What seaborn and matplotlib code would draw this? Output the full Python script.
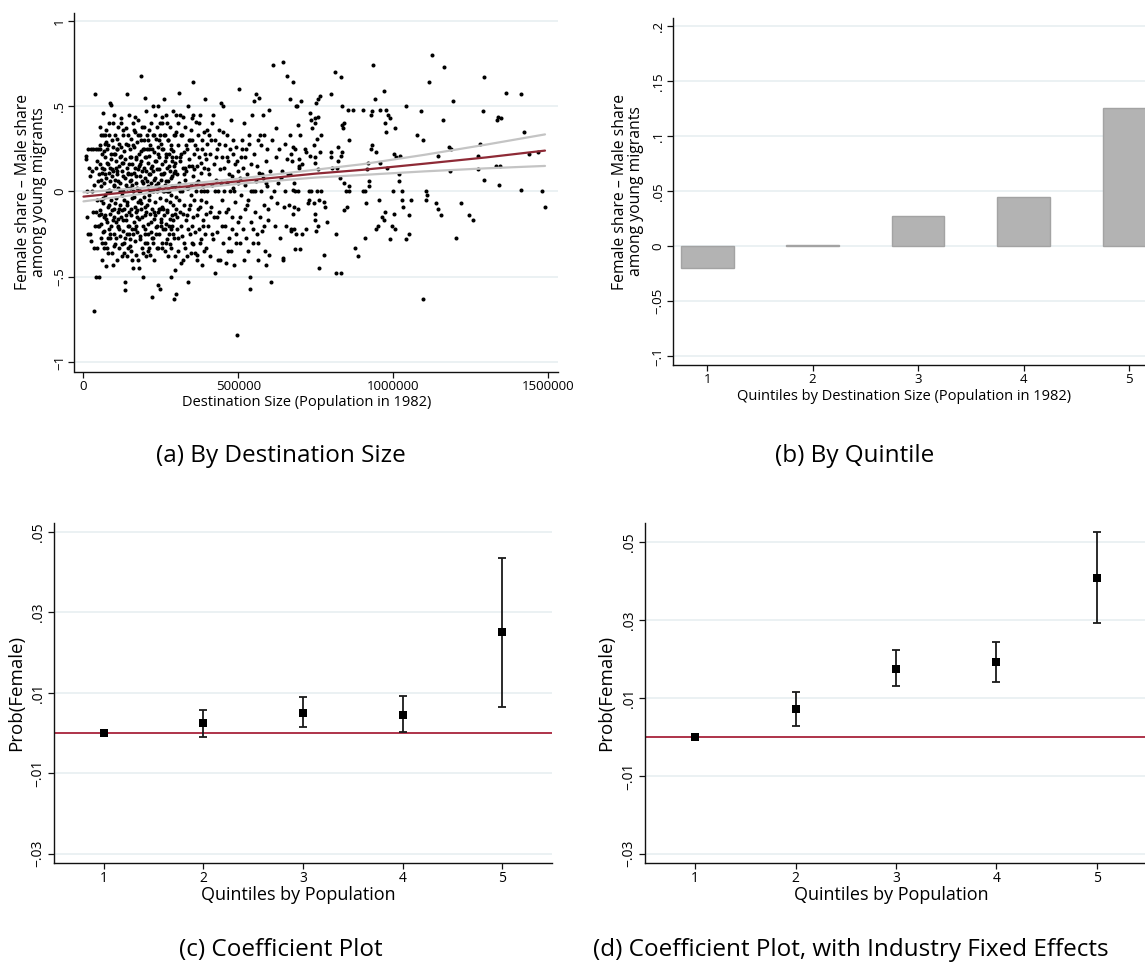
import matplotlib
matplotlib.use("Agg")
import matplotlib.pyplot as plt
import seaborn as sns
import pandas as pd

# ---------------- data ----------------
# (a) destination population (thousands) vs female share - male share
scatter_points = [
    # 0-50k
    (8,0.21),(9,0.19),(10,-0.15),(12,0.0),(14,-0.25),(15,0.25),(18,0.14),(20,-0.25),(22,0.09),(24,-0.29),
    (25,0.25),(26,0.0),(28,0.12),(30,-0.12),(31,0.25),(33,-0.33),(34,0.04),(35,-0.70),(36,-0.20),(38,0.57),
    (39,0.14),(40,-0.50),(41,-0.12),(42,0.25),(43,-0.05),(44,0.18),(45,-0.33),(46,0.06),(47,-0.20),(48,0.25),
    (49,-0.14),(50,-0.50),(50,0.10),
    # 50-100k
    (52,0.27),(53,-0.11),(54,0.16),(55,-0.27),(56,0.03),(57,0.33),(58,-0.19),(59,0.11),(60,-0.40),(61,0.22),
    (62,-0.07),(63,0.46),(64,-0.24),(65,0.13),(66,-0.15),(67,0.05),(68,0.33),(69,-0.30),(70,0.20),(71,-0.02),
    (72,-0.44),(73,0.36),(74,0.08),(75,-0.18),(76,0.25),(77,-0.33),(78,0.16),(79,-0.09),(80,0.27),(81,-0.22),
    (82,0.01),(83,0.40),(84,-0.13),(85,0.52),(86,-0.27),(87,0.14),(88,0.51),(89,-0.05),(90,0.19),(91,-0.36),
    (92,0.09),(93,0.30),(94,-0.17),(95,-0.43),(96,0.12),(97,0.03),(98,-0.25),(99,0.45),(100,-0.10),(100,0.22),
    (51,-0.20),(53,0.38),(55,0.07),(57,-0.13),(59,-0.30),(61,0.14),(63,-0.04),(65,0.24),(67,-0.23),(69,0.10),
    (71,0.28),(73,-0.16),(75,0.00),(77,0.17),(79,-0.36),(81,0.33),(83,-0.08),(85,0.06),(87,-0.25),(89,0.22),
    (91,0.13),(93,-0.11),(95,0.26),(97,-0.32),(99,0.04),(54,0.25),(58,-0.05),(62,0.33),(66,-0.33),(70,-0.14),
    (74,0.29),(78,-0.27),(82,0.11),(86,0.00),(90,-0.20),(94,0.40),(98,-0.15),
    # 100-150k
    (101,0.33),(102,-0.31),(103,0.07),(104,-0.18),(105,0.18),(106,-0.04),(107,0.25),(108,-0.40),(109,0.10),(110,-0.21),
    (111,0.38),(112,0.02),(113,-0.12),(114,0.15),(115,-0.33),(116,0.28),(117,-0.08),(118,0.05),(119,-0.26),(120,0.21),
    (121,-0.15),(122,0.43),(123,-0.02),(124,-0.38),(125,0.12),(126,0.33),(127,-0.23),(128,0.00),(129,0.17),(130,-0.10),
    (131,-0.30),(132,0.24),(133,0.08),(134,-0.53),(135,-0.58),(136,-0.17),(137,0.37),(138,0.04),(139,-0.25),(140,0.14),
    (141,0.57),(142,-0.06),(143,-0.33),(144,0.27),(145,0.10),(146,-0.20),(147,0.45),(148,-0.12),(149,0.20),(150,-0.28),
    (150,0.02),
    (101,-0.07),(103,0.22),(105,-0.27),(107,0.12),(109,0.31),(111,-0.16),(113,0.06),(115,-0.22),(117,0.20),(119,0.00),
    (121,0.26),(123,-0.31),(125,-0.11),(127,0.09),(129,0.36),(131,-0.05),(133,-0.27),(135,0.19),(137,-0.14),(139,0.02),
    (141,-0.38),(143,0.11),(145,0.33),(147,-0.25),(149,0.06),(104,0.14),(108,0.25),(112,-0.20),(116,-0.10),(120,0.40),
    (124,0.17),(128,-0.17),(132,-0.36),(136,0.28),(140,-0.08),(144,-0.20),(148,0.16),
    # 150-200k
    (151,0.25),(152,-0.14),(153,0.07),(154,-0.35),(155,0.31),(156,-0.04),(157,0.16),(158,-0.22),(159,0.40),(160,0.00),
    (161,-0.45),(162,0.11),(163,-0.18),(164,0.26),(165,-0.09),(166,0.35),(167,-0.29),(168,0.05),(169,0.19),(170,-0.12),
    (171,-0.37),(172,0.29),(173,0.02),(174,-0.24),(175,0.13),(176,0.42),(177,-0.06),(178,-0.45),(179,0.22),(180,-0.16),
    (181,0.09),(182,0.33),(183,-0.28),(184,0.00),(185,0.18),(186,-0.10),(187,0.68),(188,0.38),(189,-0.33),(190,0.06),
    (191,0.25),(192,-0.20),(193,-0.50),(194,0.14),(195,-0.03),(196,0.30),(197,-0.14),(198,0.55),(199,0.08),(200,-0.25),
    (200,0.20),
    (151,-0.32),(153,0.20),(155,-0.10),(157,0.04),(159,-0.25),(161,0.27),(163,-0.03),(165,0.14),(167,0.44),(169,-0.20),
    (171,0.09),(173,-0.15),(175,0.33),(177,-0.40),(179,0.00),(181,-0.26),(183,0.16),(185,-0.07),(187,0.24),(189,0.12),
    (191,-0.36),(193,0.05),(195,0.38),(197,-0.22),(199,-0.09),(154,0.10),(158,-0.40),(162,0.36),(166,-0.22),(170,0.20),
    (174,-0.11),(178,0.15),(182,-0.05),(186,0.30),(190,-0.15),(194,0.25),(198,-0.30),
    # 200-250k
    (201,-0.38),(202,0.12),(203,0.47),(204,-0.08),(205,0.25),(206,-0.30),(207,0.03),(208,0.17),(209,-0.19),(210,0.36),
    (211,-0.02),(212,-0.33),(213,0.21),(214,0.10),(215,-0.13),(216,0.27),(217,-0.24),(218,0.05),(219,0.40),(220,-0.62),
    (221,-0.10),(222,0.15),(223,0.33),(224,-0.27),(225,0.00),(226,0.50),(227,-0.16),(228,0.23),(229,-0.40),(230,0.08),
    (231,0.18),(232,-0.06),(233,0.31),(234,-0.21),(235,0.04),(236,0.38),(237,-0.33),(238,0.13),(239,-0.55),(240,0.26),
    (241,-0.12),(242,0.50),(243,0.02),(244,-0.25),(245,0.20),(246,-0.04),(247,0.33),(248,-0.57),(249,0.10),(250,-0.18),
    (250,0.28),
    (201,0.20),(203,-0.12),(205,0.06),(207,-0.25),(209,0.30),(211,0.10),(213,-0.05),(215,-0.37),(217,0.14),(219,-0.18),
    (221,0.25),(223,0.00),(225,-0.30),(227,0.33),(229,0.07),(231,-0.14),(233,0.18),(235,-0.25),(237,0.00),(239,0.22),
    (241,-0.33),(243,0.13),(245,-0.10),(247,0.40),(249,-0.20),(204,0.33),(208,-0.35),(212,0.25),(216,0.00),(220,-0.27),
    (224,0.12),(228,-0.12),(232,0.45),(236,-0.20),(240,0.05),(244,0.30),(248,-0.10),
    # 250-300k
    (251,0.07),(252,-0.30),(253,0.40),(254,-0.09),(255,0.16),(256,0.00),(257,-0.22),(258,0.25),(259,0.54),(260,-0.14),
    (261,0.11),(262,-0.35),(263,0.33),(264,0.04),(265,-0.19),(266,0.20),(267,-0.05),(268,0.45),(269,-0.28),(270,0.14),
    (271,-0.11),(272,0.30),(273,-0.38),(274,0.06),(275,0.22),(276,-0.25),(277,0.00),(278,0.38),(279,-0.16),(280,0.12),
    (281,-0.33),(282,0.27),(283,-0.02),(284,-0.50),(285,0.18),(286,0.09),(287,-0.20),(288,0.47),(289,-0.08),(290,0.24),
    (291,-0.63),(292,0.15),(293,-0.27),(294,0.03),(295,0.33),(296,-0.13),(297,-0.46),(298,0.20),(299,-0.03),(300,0.45),
    (300,-0.60),
    (251,-0.16),(253,0.25),(255,-0.33),(257,0.10),(259,0.00),(261,0.33),(263,-0.22),(265,0.06),(267,0.22),(269,-0.12),
    (271,0.40),(273,0.00),(275,-0.20),(277,0.15),(279,-0.31),(281,0.08),(283,0.25),(285,-0.14),(287,0.03),(289,-0.25),
    (291,0.33),(293,0.11),(295,-0.38),(297,0.17),(299,-0.10),(254,0.44),(258,-0.10),(262,0.18),(266,-0.30),(270,0.00),
    (274,0.30),(278,-0.06),(282,-0.22),(286,0.20),(290,-0.17),(294,0.12),(298,0.35),
    # 300-350k
    (302,0.10),(303,-0.22),(305,0.27),(306,-0.35),(308,0.05),(309,0.58),(311,-0.12),(312,0.18),(314,-0.42),(315,0.33),
    (317,0.00),(318,-0.26),(320,0.14),(321,0.44),(323,-0.08),(324,0.23),(326,-0.30),(327,0.07),(329,0.38),(330,-0.17),
    (332,0.12),(333,-0.38),(335,0.25),(336,-0.53),(338,0.02),(339,0.50),(341,-0.10),(342,0.19),(344,-0.25),(345,0.30),
    (347,0.04),(348,-0.36),(349,0.15),(350,-0.20),(350,0.43),
    (301,-0.15),(304,0.40),(307,-0.05),(310,0.20),(313,0.00),(316,-0.20),(319,0.33),(322,-0.13),(325,0.10),(328,-0.33),
    (331,0.27),(334,0.02),(337,-0.22),(340,0.15),(343,-0.08),(346,0.36),(349,-0.30),(304,-0.27),(310,0.45),(316,0.22),
    (322,-0.40),(328,0.14),(334,-0.14),(340,0.30),(346,-0.02),
    # 350-400k
    (352,0.09),(353,-0.31),(355,0.64),(356,0.22),(358,-0.05),(359,0.27),(361,-0.36),(362,0.00),(364,0.41),(365,-0.14),
    (367,0.15),(368,-0.37),(370,0.33),(371,0.06),(373,-0.22),(374,0.20),(376,-0.09),(377,0.45),(379,-0.28),(380,0.11),
    (382,0.25),(383,-0.43),(385,0.03),(386,-0.17),(388,0.35),(389,0.14),(391,-0.25),(392,0.54),(394,-0.06),(395,0.19),
    (397,-0.33),(398,0.28),(400,0.00),
    (351,0.30),(354,-0.15),(357,0.13),(360,-0.24),(363,0.05),(366,0.25),(369,-0.10),(372,0.40),(375,-0.30),(378,0.17),
    (381,-0.05),(384,0.30),(387,-0.20),(390,0.00),(393,0.22),(396,-0.13),(399,0.36),(354,0.45),(366,-0.40),(378,0.00),
    (390,-0.35),
    # 400-600k
    (402,-0.20),(404,0.33),(406,0.10),(408,-0.38),(410,0.22),(412,-0.09),(414,0.40),(416,0.04),(418,-0.28),(420,0.16),
    (422,-0.15),(424,0.30),(426,-0.48),(428,0.07),(430,0.25),(432,-0.24),(434,0.00),(436,0.36),(438,-0.12),(440,0.13),
    (442,-0.40),(444,0.52),(446,0.20),(448,-0.05),(450,-0.30),
    (452,0.50),(454,0.14),(456,-0.20),(458,0.27),(460,-0.42),(462,0.05),(464,0.33),(466,-0.10),(468,0.18),(470,-0.27),
    (472,0.00),(474,0.25),(476,-0.35),(478,0.09),(480,-0.15),(482,0.22),(484,0.02),(486,-0.43),(488,0.16),(490,-0.06),
    (492,0.26),(494,-0.25),(496,-0.84),(498,0.12),(500,-0.18),
    (502,0.60),(504,0.08),(506,-0.30),(508,0.20),(510,-0.02),(512,0.30),(514,-0.22),(516,0.14),(518,0.40),(520,-0.10),
    (522,0.04),(524,-0.27),(526,0.25),(528,0.10),(530,-0.35),(532,-0.05),(534,0.33),(536,-0.50),(538,-0.57),(540,0.16),
    (542,-0.18),(544,0.45),(546,0.00),(548,-0.30),(550,0.53),
    (552,0.22),(554,-0.12),(556,0.57),(558,0.06),(560,-0.25),(562,0.30),(564,-0.40),(566,0.11),(568,0.55),(570,-0.15),
    (572,0.00),(574,0.27),(576,-0.23),(578,0.45),(580,0.08),(582,-0.08),(584,0.33),(586,-0.35),(588,0.18),(590,-0.43),
    (592,0.03),(594,0.25),(596,-0.17),(598,0.48),(600,-0.37),
    (403,0.13),(407,-0.12),(411,0.30),(415,-0.25),(419,0.45),(423,0.00),(427,0.20),(431,-0.15),(435,-0.40),(439,0.28),
    (443,0.05),(447,-0.20),(451,0.35),(455,0.00),(459,-0.12),(463,0.20),(467,-0.35),(471,0.10),(475,0.42),(479,-0.22),
    (483,0.30),(487,0.00),(491,-0.30),(495,0.18),(499,0.05),(505,-0.15),(511,0.25),(517,-0.40),(523,0.20),(529,-0.08),
    (535,0.28),(541,0.00),(547,-0.22),(553,0.00),(559,0.15),(565,-0.30),(571,0.33),(577,0.10),(583,-0.20),(589,0.05),
    (595,-0.10),
    # 600-700k
    (602,0.12),(605,-0.03),(607,-0.53),(610,0.30),(613,0.74),(615,0.00),(618,-0.20),(620,0.20),(623,0.37),(626,-0.07),
    (628,0.05),(631,0.25),(634,-0.27),(637,0.08),(640,0.12),(643,-0.40),(644,0.76),(646,-0.09),(649,0.28),(652,0.00),
    (655,-0.20),(657,0.68),(660,0.10),(663,-0.08),(666,0.54),(668,0.33),(671,-0.22),(674,0.18),(675,0.64),(678,-0.13),
    (681,0.05),(684,0.25),(687,-0.25),(690,0.50),(693,0.00),(696,0.15),(699,-0.34),
    (675,0.26),(670,0.22),(658,0.19),(667,0.10),(695,0.14),(697,0.19),(699,0.33),(691,0.39),(678,0.01),(684,0.00),
    (681,-0.09),(693,-0.10),(681,-0.22),(670,-0.23),(684,-0.34),(687,0.50),(644,-0.39),
    # 700k and above
    (705,0.16),(717,0.23),(732,0.21),(714,0.25),(701,0.53),(707,-0.25),(717,-0.22),(731,0.46),(733,0.42),(738,0.37),
    (747,0.40),(746,0.43),(758,0.44),(752,0.52),(758,0.54),(764,0.56),(754,0.31),(768,0.33),(744,0.27),(762,0.23),
    (749,0.20),(746,0.17),(756,0.13),(726,-0.07),(729,-0.05),(735,0.00),(728,0.00),(743,-0.07),(746,-0.13),(749,-0.17),
    (758,-0.20),(752,-0.23),(760,-0.05),(767,0.00),(754,0.00),(775,-0.06),(781,-0.09),(786,-0.18),(760,-0.45),(775,-0.37),
    (800,0.20),(802,0.14),(798,0.23),(816,-0.25),(822,0.26),(836,0.23),(833,0.21),(822,0.18),(820,0.14),(829,0.08),
    (842,0.05),(857,0.03),(847,0.00),(857,0.00),(851,-0.09),(840,-0.11),(857,0.30),(834,0.39),(842,0.40),(837,0.37),
    (812,0.70),(832,0.67),(800,0.57),(834,0.50),(855,0.48),(870,0.48),(832,-0.48),(816,-0.48),(875,-0.33),(887,-0.38),
    (909,-0.27),(901,0.48),(927,0.45),(931,0.47),(936,0.74),(942,0.54),(957,0.48),(978,0.48),(982,0.45),(990,0.43),
    (971,0.59),(973,0.40),(1007,0.37),(977,0.35),(933,0.27),(928,0.25),(943,0.23),(957,0.17),(919,0.17),(914,0.13),
    (923,0.06),(921,0.03),(909,0.00),(904,0.00),(911,-0.07),(955,-0.05),(964,-0.15),(970,-0.17),(974,-0.12),(950,-0.20),
    (943,-0.22),(988,-0.28),(998,0.00),(1001,-0.13),(997,-0.20),(1005,-0.22),(1018,0.06),(1020,0.10),(1001,0.22),(980,0.14),
    (1009,0.20),(1022,0.21),(1029,0.00),(1027,-0.05),(1030,-0.09),(1042,-0.28),(1052,-0.25),(1052,-0.14),(1059,-0.05),(1042,0.50),
    (1076,0.33),(1096,0.30),(1089,0.47),(1117,0.64),(1125,0.80),(1165,0.73),(1105,0.00),(1110,-0.02),(1106,-0.05),(1097,-0.63),
    (1139,-0.07),(1143,-0.10),(1153,-0.14),(1143,0.21),(1160,0.42),(1180,0.26),(1186,0.25),(1183,0.12),(1192,0.53),(1202,-0.27),
    (1218,-0.07),(1245,-0.14),(1258,-0.17),(1273,0.13),(1274,0.21),(1281,0.28),(1291,0.47),(1293,0.67),(1292,0.07),(1331,0.15),
    (1345,0.15),(1341,0.04),(1347,0.43),(1336,0.42),(1339,0.44),(1365,0.58),(1412,0.57),(1421,0.35),(1413,0.01),(1439,0.22),
    (1468,0.23),(1480,0.00),(1490,-0.09),
]
pop_thousands = [p[0] for p in scatter_points]
share_gap = [p[1] for p in scatter_points]

# linear fit and 95% CI
fit_pop = [0, 250000, 500000, 750000, 900000, 1100000, 1300000, 1490000]
fit_mid = [-0.030, 0.015, 0.060, 0.105, 0.127, 0.163, 0.200, 0.240]
fit_hi = [-0.005, 0.030, 0.075, 0.128, 0.160, 0.215, 0.275, 0.335]
fit_lo = [-0.058, 0.000, 0.045, 0.082, 0.097, 0.118, 0.136, 0.150]

# (b) quintile means
quintiles = [1, 2, 3, 4, 5]
quintile_gap = [-0.0195, 0.001, 0.0273, 0.0446, 0.1257]

# (c) coefficient plot
coef_c = [0.0, 0.0024, 0.0051, 0.0046, 0.0250]
lo_c = [0.0, -0.0009, 0.0014, 0.0002, 0.0064]
hi_c = [0.0, 0.0058, 0.0090, 0.0091, 0.0436]

# (d) coefficient plot with industry FE
coef_d = [0.0, 0.0071, 0.0175, 0.0193, 0.0409]
lo_d = [0.0, 0.0027, 0.0130, 0.0142, 0.0291]
hi_d = [0.0, 0.0115, 0.0222, 0.0244, 0.0526]

captions = ["(a) By Destination Size", "(b) By Quintile", "(c) Coefficient Plot",
            "(d) Coefficient Plot, with Industry Fixed Effects"]

# ---------------- style ----------------
sns.set_theme(style="white")
FONT = "Open Sans"
plt.rcParams["font.family"] = [FONT, "DejaVu Sans"]
plt.rcParams["axes.unicode_minus"] = True
for key in ["text.color", "axes.labelcolor", "xtick.color", "ytick.color"]:
    plt.rcParams[key] = "black"

GRID = "#e6eef0"
SPINE = "#111111"


def stata_axes(ax, yticks, ylabels, tick_fs=9.5):
    for s in ["top", "right"]:
        ax.spines[s].set_visible(False)
    for s in ["left", "bottom"]:
        ax.spines[s].set_color(SPINE)
        ax.spines[s].set_linewidth(1.0)
    ax.set_yticks(yticks)
    ax.set_yticklabels(ylabels)
    ax.tick_params(axis="both", direction="out", length=4, width=0.9, color=SPINE,
                   labelcolor="black", labelsize=tick_fs, pad=2, left=True, bottom=True)
    for lab in ax.get_yticklabels():
        lab.set_rotation(90)
        lab.set_va("center")
        lab.set_ha("right")
    for y in yticks:
        ax.axhline(y, color=GRID, lw=1.1, zorder=0)


fig = plt.figure(figsize=(11.45, 9.66), dpi=100)
W, H = 1145, 966


def add_ax(left, top, right, bottom):
    return fig.add_axes([left / W, 1 - bottom / H, (right - left) / W, (bottom - top) / H])


# ---------------- (a) ----------------
axa = add_ax(74.5, 12.7, 558, 372)
df_a = pd.DataFrame({"pop": [v * 1000 for v in pop_thousands], "gap": share_gap})
sns.scatterplot(data=df_a, x="pop", y="gap", ax=axa, color="black", s=8.5, linewidth=0, zorder=3)
df_fit = pd.DataFrame({"pop": fit_pop, "mid": fit_mid, "hi": fit_hi, "lo": fit_lo})
sns.lineplot(data=df_fit, x="pop", y="hi", ax=axa, color="#c4c4c4", lw=1.6, zorder=4)
sns.lineplot(data=df_fit, x="pop", y="lo", ax=axa, color="#c4c4c4", lw=1.6, zorder=4)
sns.lineplot(data=df_fit, x="pop", y="mid", ax=axa, color="#8e2a36", lw=1.6, zorder=5)
axa.set_xlim(-29000, 1532000)
axa.set_ylim(-1.059, 1.049)
stata_axes(axa, [-1, -0.5, 0, 0.5, 1], ["\u22121", "\u2212.5", "0", ".5", "1"])
axa.set_xticks([0, 500000, 1000000, 1500000])
axa.set_xticklabels(["0", "500000", "1000000", "1500000"])
axa.set_xlabel("Destination Size (Population in 1982)", fontsize=10.5)
axa.set_ylabel("Female share \u2013 Male share\namong young migrants", fontsize=11.3, linespacing=0.95)
axa.xaxis.set_label_coords(0.48, -0.086)
axa.xaxis.label.set_va("center")
axa.yaxis.set_label_coords(-0.09, 0.5)
axa.yaxis.label.set_va("center")

# ---------------- (b) ----------------
axb = add_ax(673, 18, 1145, 365)
df_b = pd.DataFrame({"q": quintiles, "gap": quintile_gap})
sns.barplot(data=df_b, x="q", y="gap", ax=axb, native_scale=True, width=0.5,
            color="#b3b3b3", edgecolor="#a3a3a3", linewidth=1.0, saturation=1, zorder=3)
axb.set_xlim(0.676, 5.152)
axb.set_ylim(-0.108, 0.2076)
stata_axes(axb, [-0.1, -0.05, 0, 0.05, 0.1, 0.15, 0.2],
           ["\u2212.1", "\u2212.05", "0", ".05", ".1", ".15", ".2"])
axb.set_xticks(quintiles)
axb.set_xticklabels([str(q) for q in quintiles])
axb.set_xlabel("Quintiles by Destination Size (Population in 1982)", fontsize=10.5)
axb.set_ylabel("Female share \u2013 Male share\namong young migrants", fontsize=11.3, linespacing=0.95)
axb.xaxis.set_label_coords(0.49, -0.092)
axb.xaxis.label.set_va("center")
axb.yaxis.set_label_coords(-0.095, 0.5)
axb.yaxis.label.set_va("center")


# ---------------- (c), (d) ----------------
def coef_panel(ax, coef, lo, hi, ylim, ylabcoords):
    ax.axhline(0, color="#a8233b", lw=1.3, zorder=2)
    yerr = [[c - l for c, l in zip(coef, lo)], [h - c for c, h in zip(coef, hi)]]
    ax.errorbar(quintiles, coef, yerr=yerr, fmt="none", ecolor="#1a1a1a",
                elinewidth=1.3, capsize=3.2, capthick=1.3, zorder=3)
    df = pd.DataFrame({"q": quintiles, "coef": coef})
    sns.scatterplot(data=df, x="q", y="coef", ax=ax, marker="s", color="black",
                    s=34, linewidth=0, zorder=4)
    ax.set_xlim(0.5, 5.5)
    ax.set_ylim(*ylim)
    stata_axes(ax, [-0.03, -0.01, 0.01, 0.03, 0.05],
               ["\u2212.03", "\u2212.01", ".01", ".03", ".05"], tick_fs=10)
    ax.set_xticks(quintiles)
    ax.set_xticklabels([str(q) for q in quintiles])
    ax.set_xlabel("Quintiles by Population", fontsize=13)
    ax.set_ylabel("Prob(Female)", fontsize=13.5)
    ax.xaxis.set_label_coords(0.49, -0.094)
    ax.xaxis.label.set_va("center")
    ax.yaxis.set_label_coords(*ylabcoords)
    ax.yaxis.label.set_va("center")


axc = add_ax(54, 523, 552, 863)
coef_panel(axc, coef_c, lo_c, hi_c, (-0.0323, 0.0522), (-0.077, 0.5))
axd = add_ax(645, 523, 1147, 863)
coef_panel(axd, coef_d, lo_d, hi_d, (-0.0324, 0.0549), (-0.077, 0.5))

# ---------------- captions ----------------
fig.text(281 / W, 1 - 456 / H, captions[0], ha="center", va="center", fontsize=17.5)
fig.text(855 / W, 1 - 456 / H, captions[1], ha="center", va="center", fontsize=17.5)
fig.text(281 / W, 1 - 950 / H, captions[2], ha="center", va="center", fontsize=17.5)
fig.text(851 / W, 1 - 950 / H, captions[3], ha="center", va="center", fontsize=17.5)

fig.savefig("out.png", dpi=100)
